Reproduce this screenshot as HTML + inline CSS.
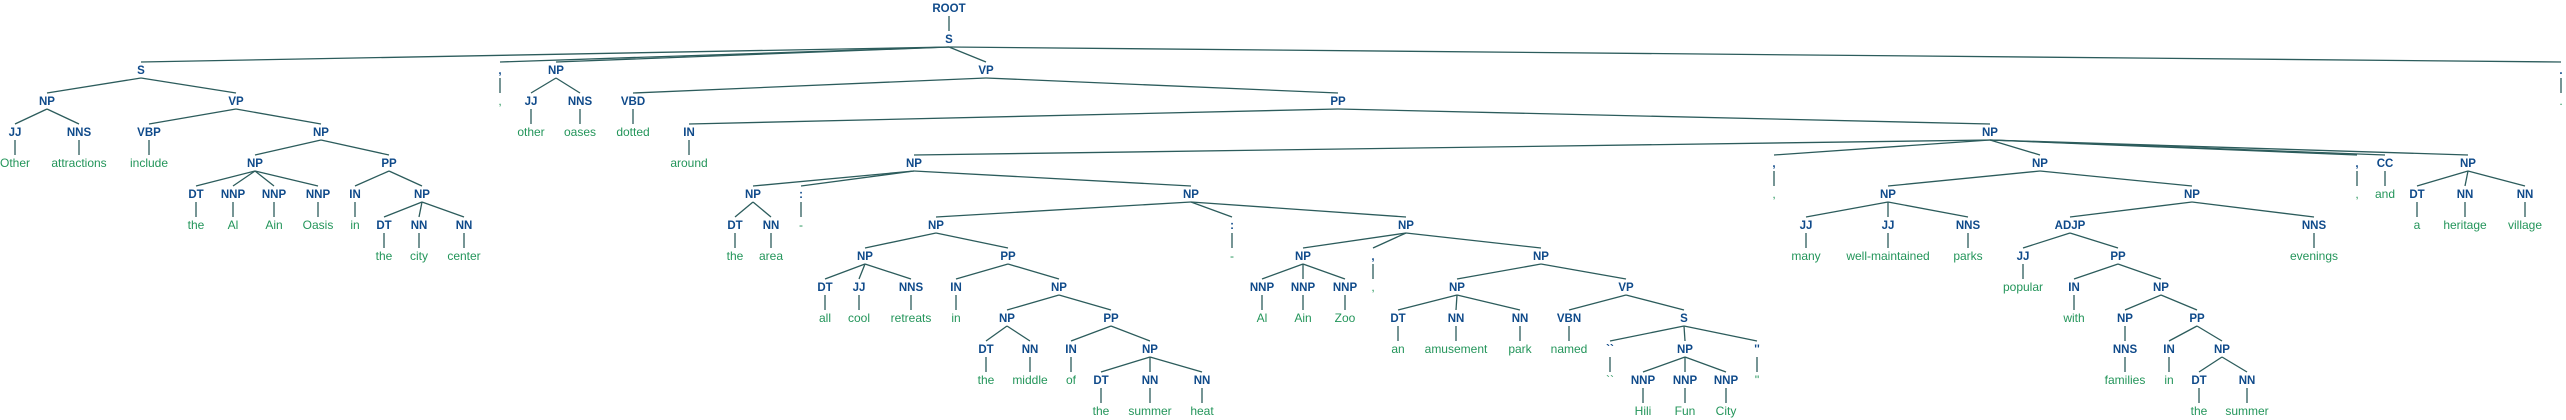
<!DOCTYPE html>
<html><head><meta charset="utf-8"><style>
html,body{margin:0;padding:0;background:#fff;width:2566px;height:420px;overflow:hidden}
svg{display:block}
.t{font-family:"Liberation Sans",sans-serif;font-weight:bold;font-size:11.5px;fill:#0f4a8a;text-anchor:middle}
.w{font-family:"Liberation Sans",sans-serif;font-size:12px;fill:#23955a;text-anchor:middle}
line{stroke:#2c5c5c;stroke-width:1.3}
</style></head><body>
<svg width="2566" height="420" viewBox="0 0 2566 420" xmlns="http://www.w3.org/2000/svg">
<g>
<!-- k0 -->
<line x1="949" y1="16" x2="949" y2="31"/>
<!-- k1 -->
<line x1="949" y1="47" x2="141" y2="62"/><line x1="949" y1="47" x2="500" y2="62"/><line x1="949" y1="47" x2="556" y2="62"/><line x1="949" y1="47" x2="986" y2="62"/><line x1="949" y1="47" x2="2561" y2="62"/>
<!-- k2 -->
<line x1="141" y1="78" x2="47" y2="93"/><line x1="141" y1="78" x2="236" y2="93"/>
<line x1="500" y1="78" x2="500" y2="93"/>
<line x1="556" y1="78" x2="531" y2="93"/><line x1="556" y1="78" x2="580" y2="93"/>
<line x1="986" y1="78" x2="633" y2="93"/><line x1="986" y1="78" x2="1338" y2="93"/>
<line x1="2561" y1="78" x2="2561" y2="93"/>
<!-- k3 -->
<line x1="47" y1="109" x2="15" y2="124"/><line x1="47" y1="109" x2="79" y2="124"/>
<line x1="236" y1="109" x2="149" y2="124"/><line x1="236" y1="109" x2="321" y2="124"/>
<line x1="531" y1="109" x2="531" y2="124"/><line x1="580" y1="109" x2="580" y2="124"/>
<line x1="633" y1="109" x2="633" y2="124"/>
<line x1="1338" y1="109" x2="689" y2="124"/><line x1="1338" y1="109" x2="1990" y2="124"/>
<!-- k4 -->
<line x1="15" y1="140" x2="15" y2="155"/><line x1="79" y1="140" x2="79" y2="155"/><line x1="149" y1="140" x2="149" y2="155"/>
<line x1="321" y1="140" x2="255" y2="155"/><line x1="321" y1="140" x2="389" y2="155"/>
<line x1="689" y1="140" x2="689" y2="155"/>
<line x1="1990" y1="140" x2="914" y2="155"/><line x1="1990" y1="140" x2="1774" y2="155"/><line x1="1990" y1="140" x2="2040" y2="155"/><line x1="1990" y1="140" x2="2357" y2="155"/><line x1="1990" y1="140" x2="2385" y2="155"/><line x1="1990" y1="140" x2="2468" y2="155"/>
<!-- k5 -->
<line x1="255" y1="171" x2="196" y2="186"/><line x1="255" y1="171" x2="233" y2="186"/><line x1="255" y1="171" x2="274" y2="186"/><line x1="255" y1="171" x2="318" y2="186"/>
<line x1="389" y1="171" x2="355" y2="186"/><line x1="389" y1="171" x2="422" y2="186"/>
<line x1="914" y1="171" x2="753" y2="186"/><line x1="914" y1="171" x2="801" y2="186"/><line x1="914" y1="171" x2="1191" y2="186"/>
<line x1="1774" y1="171" x2="1774" y2="186"/>
<line x1="2040" y1="171" x2="1888" y2="186"/><line x1="2040" y1="171" x2="2192" y2="186"/>
<line x1="2357" y1="171" x2="2357" y2="186"/><line x1="2385" y1="171" x2="2385" y2="186"/>
<line x1="2468" y1="171" x2="2417" y2="186"/><line x1="2468" y1="171" x2="2465" y2="186"/><line x1="2468" y1="171" x2="2525" y2="186"/>
<!-- k6 -->
<line x1="196" y1="202" x2="196" y2="217"/><line x1="233" y1="202" x2="233" y2="217"/><line x1="274" y1="202" x2="274" y2="217"/><line x1="318" y1="202" x2="318" y2="217"/><line x1="355" y1="202" x2="355" y2="217"/>
<line x1="422" y1="202" x2="384" y2="217"/><line x1="422" y1="202" x2="419" y2="217"/><line x1="422" y1="202" x2="464" y2="217"/>
<line x1="753" y1="202" x2="735" y2="217"/><line x1="753" y1="202" x2="771" y2="217"/>
<line x1="801" y1="202" x2="801" y2="217"/>
<line x1="1191" y1="202" x2="936" y2="217"/><line x1="1191" y1="202" x2="1232" y2="217"/><line x1="1191" y1="202" x2="1406" y2="217"/>
<line x1="1888" y1="202" x2="1806" y2="217"/><line x1="1888" y1="202" x2="1888" y2="217"/><line x1="1888" y1="202" x2="1968" y2="217"/>
<line x1="2192" y1="202" x2="2070" y2="217"/><line x1="2192" y1="202" x2="2314" y2="217"/>
<line x1="2417" y1="202" x2="2417" y2="217"/><line x1="2465" y1="202" x2="2465" y2="217"/><line x1="2525" y1="202" x2="2525" y2="217"/>
<!-- k7 -->
<line x1="384" y1="233" x2="384" y2="248"/><line x1="419" y1="233" x2="419" y2="248"/><line x1="464" y1="233" x2="464" y2="248"/>
<line x1="735" y1="233" x2="735" y2="248"/><line x1="771" y1="233" x2="771" y2="248"/>
<line x1="936" y1="233" x2="865" y2="248"/><line x1="936" y1="233" x2="1008" y2="248"/>
<line x1="1232" y1="233" x2="1232" y2="248"/>
<line x1="1406" y1="233" x2="1303" y2="248"/><line x1="1406" y1="233" x2="1373" y2="248"/><line x1="1406" y1="233" x2="1541" y2="248"/>
<line x1="1806" y1="233" x2="1806" y2="248"/><line x1="1888" y1="233" x2="1888" y2="248"/><line x1="1968" y1="233" x2="1968" y2="248"/>
<line x1="2070" y1="233" x2="2023" y2="248"/><line x1="2070" y1="233" x2="2118" y2="248"/>
<line x1="2314" y1="233" x2="2314" y2="248"/>
<!-- k8 -->
<line x1="865" y1="264" x2="825" y2="279"/><line x1="865" y1="264" x2="859" y2="279"/><line x1="865" y1="264" x2="911" y2="279"/>
<line x1="1008" y1="264" x2="956" y2="279"/><line x1="1008" y1="264" x2="1059" y2="279"/>
<line x1="1303" y1="264" x2="1262" y2="279"/><line x1="1303" y1="264" x2="1303" y2="279"/><line x1="1303" y1="264" x2="1345" y2="279"/>
<line x1="1373" y1="264" x2="1373" y2="279"/>
<line x1="1541" y1="264" x2="1457" y2="279"/><line x1="1541" y1="264" x2="1626" y2="279"/>
<line x1="2023" y1="264" x2="2023" y2="279"/>
<line x1="2118" y1="264" x2="2074" y2="279"/><line x1="2118" y1="264" x2="2161" y2="279"/>
<!-- k9 -->
<line x1="825" y1="295" x2="825" y2="310"/><line x1="859" y1="295" x2="859" y2="310"/><line x1="911" y1="295" x2="911" y2="310"/><line x1="956" y1="295" x2="956" y2="310"/>
<line x1="1059" y1="295" x2="1007" y2="310"/><line x1="1059" y1="295" x2="1111" y2="310"/>
<line x1="1262" y1="295" x2="1262" y2="310"/><line x1="1303" y1="295" x2="1303" y2="310"/><line x1="1345" y1="295" x2="1345" y2="310"/>
<line x1="1457" y1="295" x2="1398" y2="310"/><line x1="1457" y1="295" x2="1456" y2="310"/><line x1="1457" y1="295" x2="1520" y2="310"/>
<line x1="1626" y1="295" x2="1569" y2="310"/><line x1="1626" y1="295" x2="1684" y2="310"/>
<line x1="2074" y1="295" x2="2074" y2="310"/>
<line x1="2161" y1="295" x2="2125" y2="310"/><line x1="2161" y1="295" x2="2197" y2="310"/>
<!-- k10 -->
<line x1="1007" y1="326" x2="986" y2="341"/><line x1="1007" y1="326" x2="1030" y2="341"/>
<line x1="1111" y1="326" x2="1071" y2="341"/><line x1="1111" y1="326" x2="1150" y2="341"/>
<line x1="1398" y1="326" x2="1398" y2="341"/><line x1="1456" y1="326" x2="1456" y2="341"/><line x1="1520" y1="326" x2="1520" y2="341"/><line x1="1569" y1="326" x2="1569" y2="341"/>
<line x1="1684" y1="326" x2="1610" y2="341"/><line x1="1684" y1="326" x2="1685" y2="341"/><line x1="1684" y1="326" x2="1757" y2="341"/>
<line x1="2125" y1="326" x2="2125" y2="341"/>
<line x1="2197" y1="326" x2="2169" y2="341"/><line x1="2197" y1="326" x2="2222" y2="341"/>
<!-- k11 -->
<line x1="986" y1="357" x2="986" y2="372"/><line x1="1030" y1="357" x2="1030" y2="372"/><line x1="1071" y1="357" x2="1071" y2="372"/>
<line x1="1150" y1="357" x2="1101" y2="372"/><line x1="1150" y1="357" x2="1150" y2="372"/><line x1="1150" y1="357" x2="1202" y2="372"/>
<line x1="1610" y1="357" x2="1610" y2="372"/><line x1="1757" y1="357" x2="1757" y2="372"/>
<line x1="1685" y1="357" x2="1643" y2="372"/><line x1="1685" y1="357" x2="1685" y2="372"/><line x1="1685" y1="357" x2="1726" y2="372"/>
<line x1="2125" y1="357" x2="2125" y2="372"/><line x1="2169" y1="357" x2="2169" y2="372"/>
<line x1="2222" y1="357" x2="2199" y2="372"/><line x1="2222" y1="357" x2="2247" y2="372"/>
<!-- k12 -->
<line x1="1101" y1="388" x2="1101" y2="403"/><line x1="1150" y1="388" x2="1150" y2="403"/><line x1="1202" y1="388" x2="1202" y2="403"/>
<line x1="1643" y1="388" x2="1643" y2="403"/><line x1="1685" y1="388" x2="1685" y2="403"/><line x1="1726" y1="388" x2="1726" y2="403"/>
<line x1="2199" y1="388" x2="2199" y2="403"/><line x1="2247" y1="388" x2="2247" y2="403"/>
</g>
<g class="t">
<text x="949" y="12">ROOT</text>
<text x="949" y="43">S</text>
<text x="141" y="74">S</text><text x="500" y="74">,</text><text x="556" y="74">NP</text><text x="986" y="74">VP</text><text x="2561" y="74">.</text>
<text x="47" y="105">NP</text><text x="236" y="105">VP</text><text x="531" y="105">JJ</text><text x="580" y="105">NNS</text><text x="633" y="105">VBD</text><text x="1338" y="105">PP</text>
<text x="15" y="136">JJ</text><text x="79" y="136">NNS</text><text x="149" y="136">VBP</text><text x="321" y="136">NP</text><text x="689" y="136">IN</text><text x="1990" y="136">NP</text>
<text x="255" y="167">NP</text><text x="389" y="167">PP</text><text x="914" y="167">NP</text><text x="1774" y="167">,</text><text x="2040" y="167">NP</text><text x="2357" y="167">,</text><text x="2385" y="167">CC</text><text x="2468" y="167">NP</text>
<text x="196" y="198">DT</text><text x="233" y="198">NNP</text><text x="274" y="198">NNP</text><text x="318" y="198">NNP</text><text x="355" y="198">IN</text><text x="422" y="198">NP</text><text x="753" y="198">NP</text><text x="801" y="198">:</text><text x="1191" y="198">NP</text><text x="1888" y="198">NP</text><text x="2192" y="198">NP</text><text x="2417" y="198">DT</text><text x="2465" y="198">NN</text><text x="2525" y="198">NN</text>
<text x="384" y="229">DT</text><text x="419" y="229">NN</text><text x="464" y="229">NN</text><text x="735" y="229">DT</text><text x="771" y="229">NN</text><text x="936" y="229">NP</text><text x="1232" y="229">:</text><text x="1406" y="229">NP</text><text x="1806" y="229">JJ</text><text x="1888" y="229">JJ</text><text x="1968" y="229">NNS</text><text x="2070" y="229">ADJP</text><text x="2314" y="229">NNS</text>
<text x="865" y="260">NP</text><text x="1008" y="260">PP</text><text x="1303" y="260">NP</text><text x="1373" y="260">,</text><text x="1541" y="260">NP</text><text x="2023" y="260">JJ</text><text x="2118" y="260">PP</text>
<text x="825" y="291">DT</text><text x="859" y="291">JJ</text><text x="911" y="291">NNS</text><text x="956" y="291">IN</text><text x="1059" y="291">NP</text><text x="1262" y="291">NNP</text><text x="1303" y="291">NNP</text><text x="1345" y="291">NNP</text><text x="1457" y="291">NP</text><text x="1626" y="291">VP</text><text x="2074" y="291">IN</text><text x="2161" y="291">NP</text>
<text x="1007" y="322">NP</text><text x="1111" y="322">PP</text><text x="1398" y="322">DT</text><text x="1456" y="322">NN</text><text x="1520" y="322">NN</text><text x="1569" y="322">VBN</text><text x="1684" y="322">S</text><text x="2125" y="322">NP</text><text x="2197" y="322">PP</text>
<text x="986" y="353">DT</text><text x="1030" y="353">NN</text><text x="1071" y="353">IN</text><text x="1150" y="353">NP</text><text x="1610" y="353">``</text><text x="1685" y="353">NP</text><text x="1757" y="353">''</text><text x="2125" y="353">NNS</text><text x="2169" y="353">IN</text><text x="2222" y="353">NP</text>
<text x="1101" y="384">DT</text><text x="1150" y="384">NN</text><text x="1202" y="384">NN</text><text x="1643" y="384">NNP</text><text x="1685" y="384">NNP</text><text x="1726" y="384">NNP</text><text x="2199" y="384">DT</text><text x="2247" y="384">NN</text>
</g>
<g class="w">
<text x="500" y="105">,</text><text x="2561" y="105">.</text>
<text x="531" y="136">other</text><text x="580" y="136">oases</text><text x="633" y="136">dotted</text>
<text x="15" y="167">Other</text><text x="79" y="167">attractions</text><text x="149" y="167">include</text><text x="689" y="167">around</text>
<text x="1774" y="198">,</text><text x="2357" y="198">,</text><text x="2385" y="198">and</text>
<text x="196" y="229">the</text><text x="233" y="229">Al</text><text x="274" y="229">Ain</text><text x="318" y="229">Oasis</text><text x="355" y="229">in</text><text x="801" y="229">-</text><text x="2417" y="229">a</text><text x="2465" y="229">heritage</text><text x="2525" y="229">village</text>
<text x="384" y="260">the</text><text x="419" y="260">city</text><text x="464" y="260">center</text><text x="735" y="260">the</text><text x="771" y="260">area</text><text x="1232" y="260">-</text><text x="1806" y="260">many</text><text x="1888" y="260">well-maintained</text><text x="1968" y="260">parks</text><text x="2314" y="260">evenings</text>
<text x="1373" y="291">,</text><text x="2023" y="291">popular</text>
<text x="825" y="322">all</text><text x="859" y="322">cool</text><text x="911" y="322">retreats</text><text x="956" y="322">in</text><text x="1262" y="322">Al</text><text x="1303" y="322">Ain</text><text x="1345" y="322">Zoo</text><text x="2074" y="322">with</text>
<text x="1398" y="353">an</text><text x="1456" y="353">amusement</text><text x="1520" y="353">park</text><text x="1569" y="353">named</text>
<text x="986" y="384">the</text><text x="1030" y="384">middle</text><text x="1071" y="384">of</text><text x="1610" y="384">``</text><text x="1757" y="384">''</text><text x="2125" y="384">families</text><text x="2169" y="384">in</text>
<text x="1101" y="415">the</text><text x="1150" y="415">summer</text><text x="1202" y="415">heat</text><text x="1643" y="415">Hili</text><text x="1685" y="415">Fun</text><text x="1726" y="415">City</text><text x="2199" y="415">the</text><text x="2247" y="415">summer</text>
</g>
</svg>
</body></html>
